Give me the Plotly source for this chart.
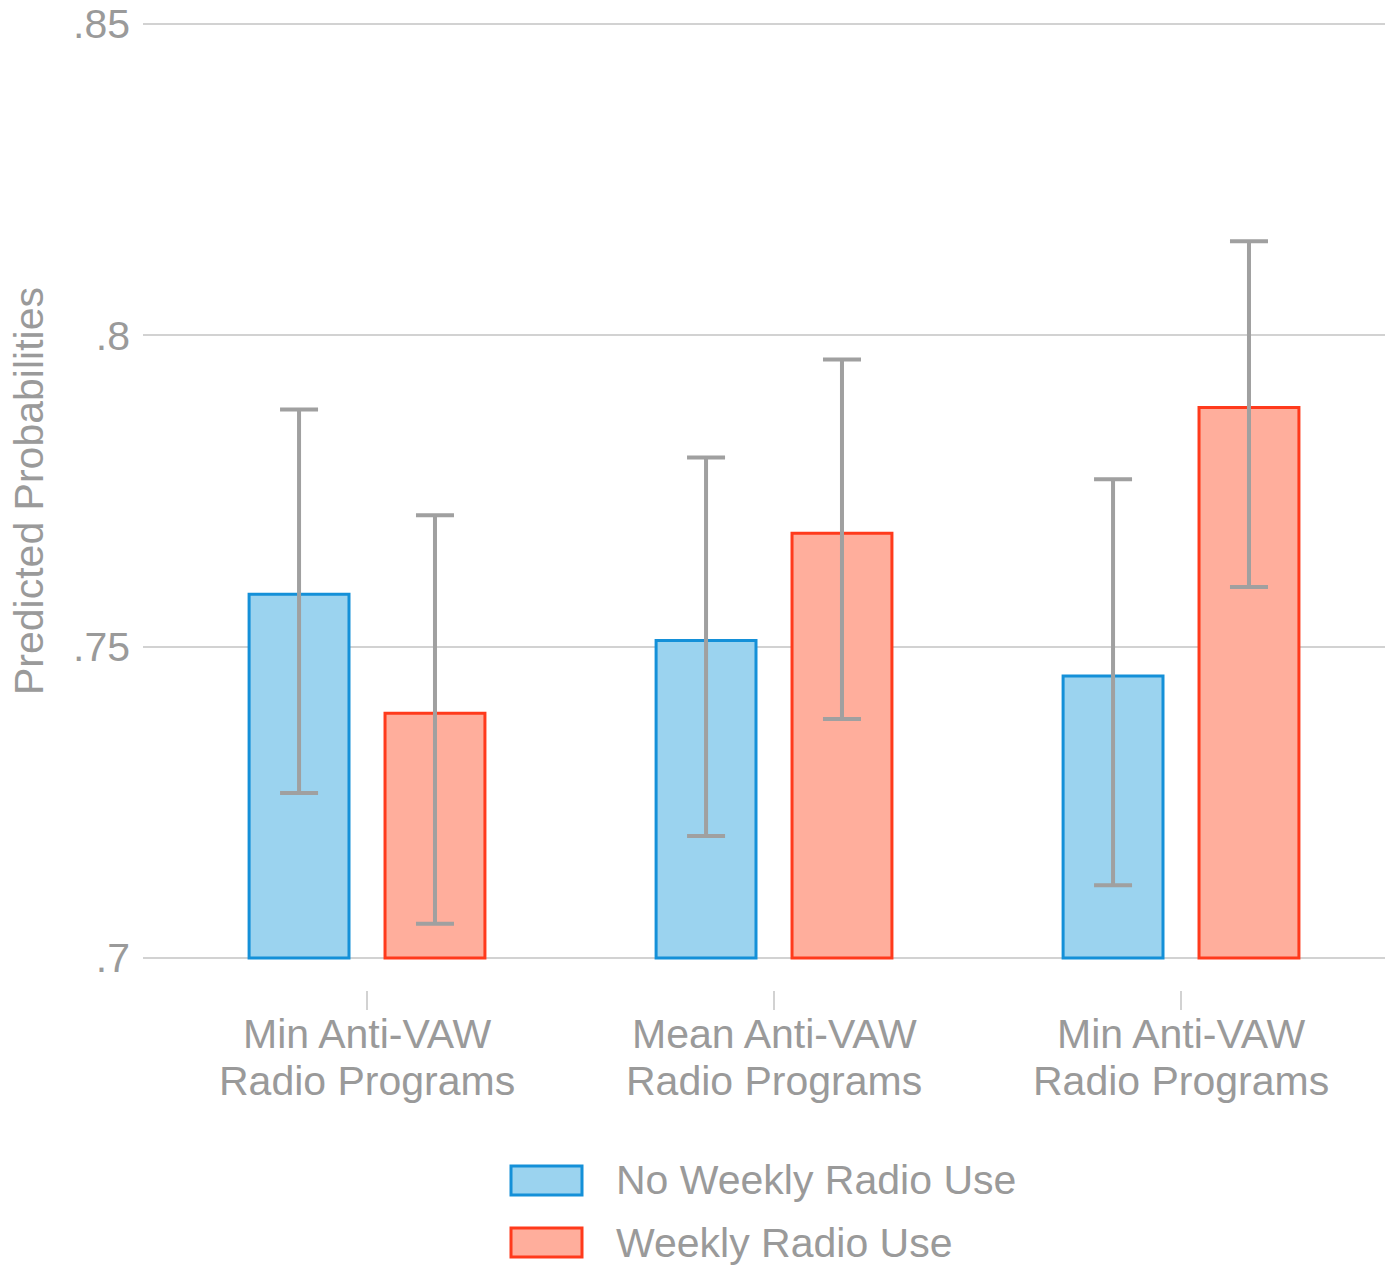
import plotly.graph_objects as go

# Predicted probabilities by exposure to anti-VAW radio programming
categories = [0, 1, 2]
category_lines = [
    ["Min Anti-VAW", "Radio Programs"],
    ["Mean Anti-VAW", "Radio Programs"],
    ["Min Anti-VAW", "Radio Programs"],
]
series_names = ["No Weekly Radio Use", "Weekly Radio Use"]

no_weekly = [0.7584, 0.7510, 0.7453]
no_weekly_lo = [0.7265, 0.7196, 0.7117]
no_weekly_hi = [0.7881, 0.7804, 0.7769]

weekly = [0.7393, 0.7682, 0.7884]
weekly_lo = [0.7055, 0.7384, 0.7596]
weekly_hi = [0.7711, 0.7961, 0.8151]

y_tick_vals = [0.70, 0.75, 0.80, 0.85]
y_tick_text = [".7", ".75", ".8", ".85"]

BASE = 0.70
FONT = "Liberation Sans, Arial, Helvetica, sans-serif"
TEXT_COLOR = "#9a9a9a"
GRID_COLOR = "#d2d2d2"
ERR_COLOR = "#a0a0a0"
BLUE_FILL, BLUE_EDGE = "#9bd3ef", "#1490d8"
RED_FILL, RED_EDGE = "#ffae9c", "#ff3a1c"
FS = 41

W, H = 1395, 1266
L, R, T, B = 143, 10, 20, 276
plot_w = W - L - R
plot_h = H - T - B

# .7 sits at 958px and .85 at 24px; pad the range so both gridlines are drawn
px_per_unit = (958 - 24) / 0.15
y_min = BASE - (H - B - 958) / px_per_unit
y_max = 0.85 + (24 - T) / px_per_unit


def paper_x(px):
    return (px - L) / plot_w


def paper_y(py):
    return (H - B - py) / plot_h


def bar_trace(name, vals, lo, hi, fill, edge):
    return go.Bar(
        name=name,
        x=categories,
        y=[v - BASE for v in vals],
        base=BASE,
        marker=dict(color=fill, line=dict(color=edge, width=3)),
        error_y=dict(
            type="data",
            symmetric=False,
            array=[h - v for h, v in zip(hi, vals)],
            arrayminus=[v - l for v, l in zip(vals, lo)],
            color=ERR_COLOR,
            thickness=4,
            width=19,
        ),
        showlegend=False,
    )


fig = go.Figure()
fig.add_trace(bar_trace(series_names[0], no_weekly, no_weekly_lo, no_weekly_hi, BLUE_FILL, BLUE_EDGE))
fig.add_trace(bar_trace(series_names[1], weekly, weekly_lo, weekly_hi, RED_FILL, RED_EDGE))

annotations = []
# two-line category labels under the x ticks
for c, lines in zip(categories, category_lines):
    for line, ypix in zip(lines, [1034, 1081]):
        annotations.append(dict(
            x=c, xref="x", y=paper_y(ypix), yref="paper",
            text=line, showarrow=False, xanchor="center", yanchor="middle",
            borderpad=0,
            font=dict(family=FONT, size=FS, color=TEXT_COLOR),
        ))

# y-axis title
annotations.append(dict(
    x=paper_x(29), xref="paper", y=paper_y(491), yref="paper",
    text="Predicted Probabilities", textangle=-90, showarrow=False,
    xanchor="center", yanchor="middle",
    font=dict(family=FONT, size=FS, color=TEXT_COLOR),
))

# legend below the chart
shapes = []
legend_rows = [(series_names[0], BLUE_FILL, BLUE_EDGE, 1166, 1195, 1180),
               (series_names[1], RED_FILL, RED_EDGE, 1228, 1257, 1243)]
for name, fill, edge, y0, y1, ytext in legend_rows:
    shapes.append(dict(
        type="rect", xref="paper", yref="paper",
        x0=paper_x(511), x1=paper_x(582), y0=paper_y(y1), y1=paper_y(y0),
        fillcolor=fill, line=dict(color=edge, width=3),
    ))
    annotations.append(dict(
        x=paper_x(614), xref="paper", y=paper_y(ytext), yref="paper",
        text=name, showarrow=False, xanchor="left", yanchor="middle",
        font=dict(family=FONT, size=FS, color=TEXT_COLOR),
    ))

fig.update_layout(
    width=W, height=H,
    margin=dict(l=L, r=R, t=T, b=B, pad=0),
    paper_bgcolor="white", plot_bgcolor="white",
    barmode="group", bargap=0.332, bargroupgap=0.265,
    font=dict(family=FONT, size=FS, color=TEXT_COLOR),
    annotations=annotations,
    shapes=shapes,
    showlegend=False,
)

fig.update_xaxes(
    range=[-0.5504, 2.5012],
    tickvals=categories,
    showticklabels=False,
    ticks="outside", ticklen=19, tickwidth=2, tickcolor=GRID_COLOR,
    showgrid=False, zeroline=False, showline=False,
    automargin=False,
)

fig.update_yaxes(
    range=[y_min, y_max],
    tickvals=y_tick_vals, ticktext=y_tick_text,
    ticks="", ticklabelstandoff=12,
    tickfont=dict(family=FONT, size=FS, color=TEXT_COLOR),
    showgrid=True, gridcolor=GRID_COLOR, gridwidth=2,
    zeroline=False, showline=False,
    automargin=False,
)

fig.write_html("out.html")
